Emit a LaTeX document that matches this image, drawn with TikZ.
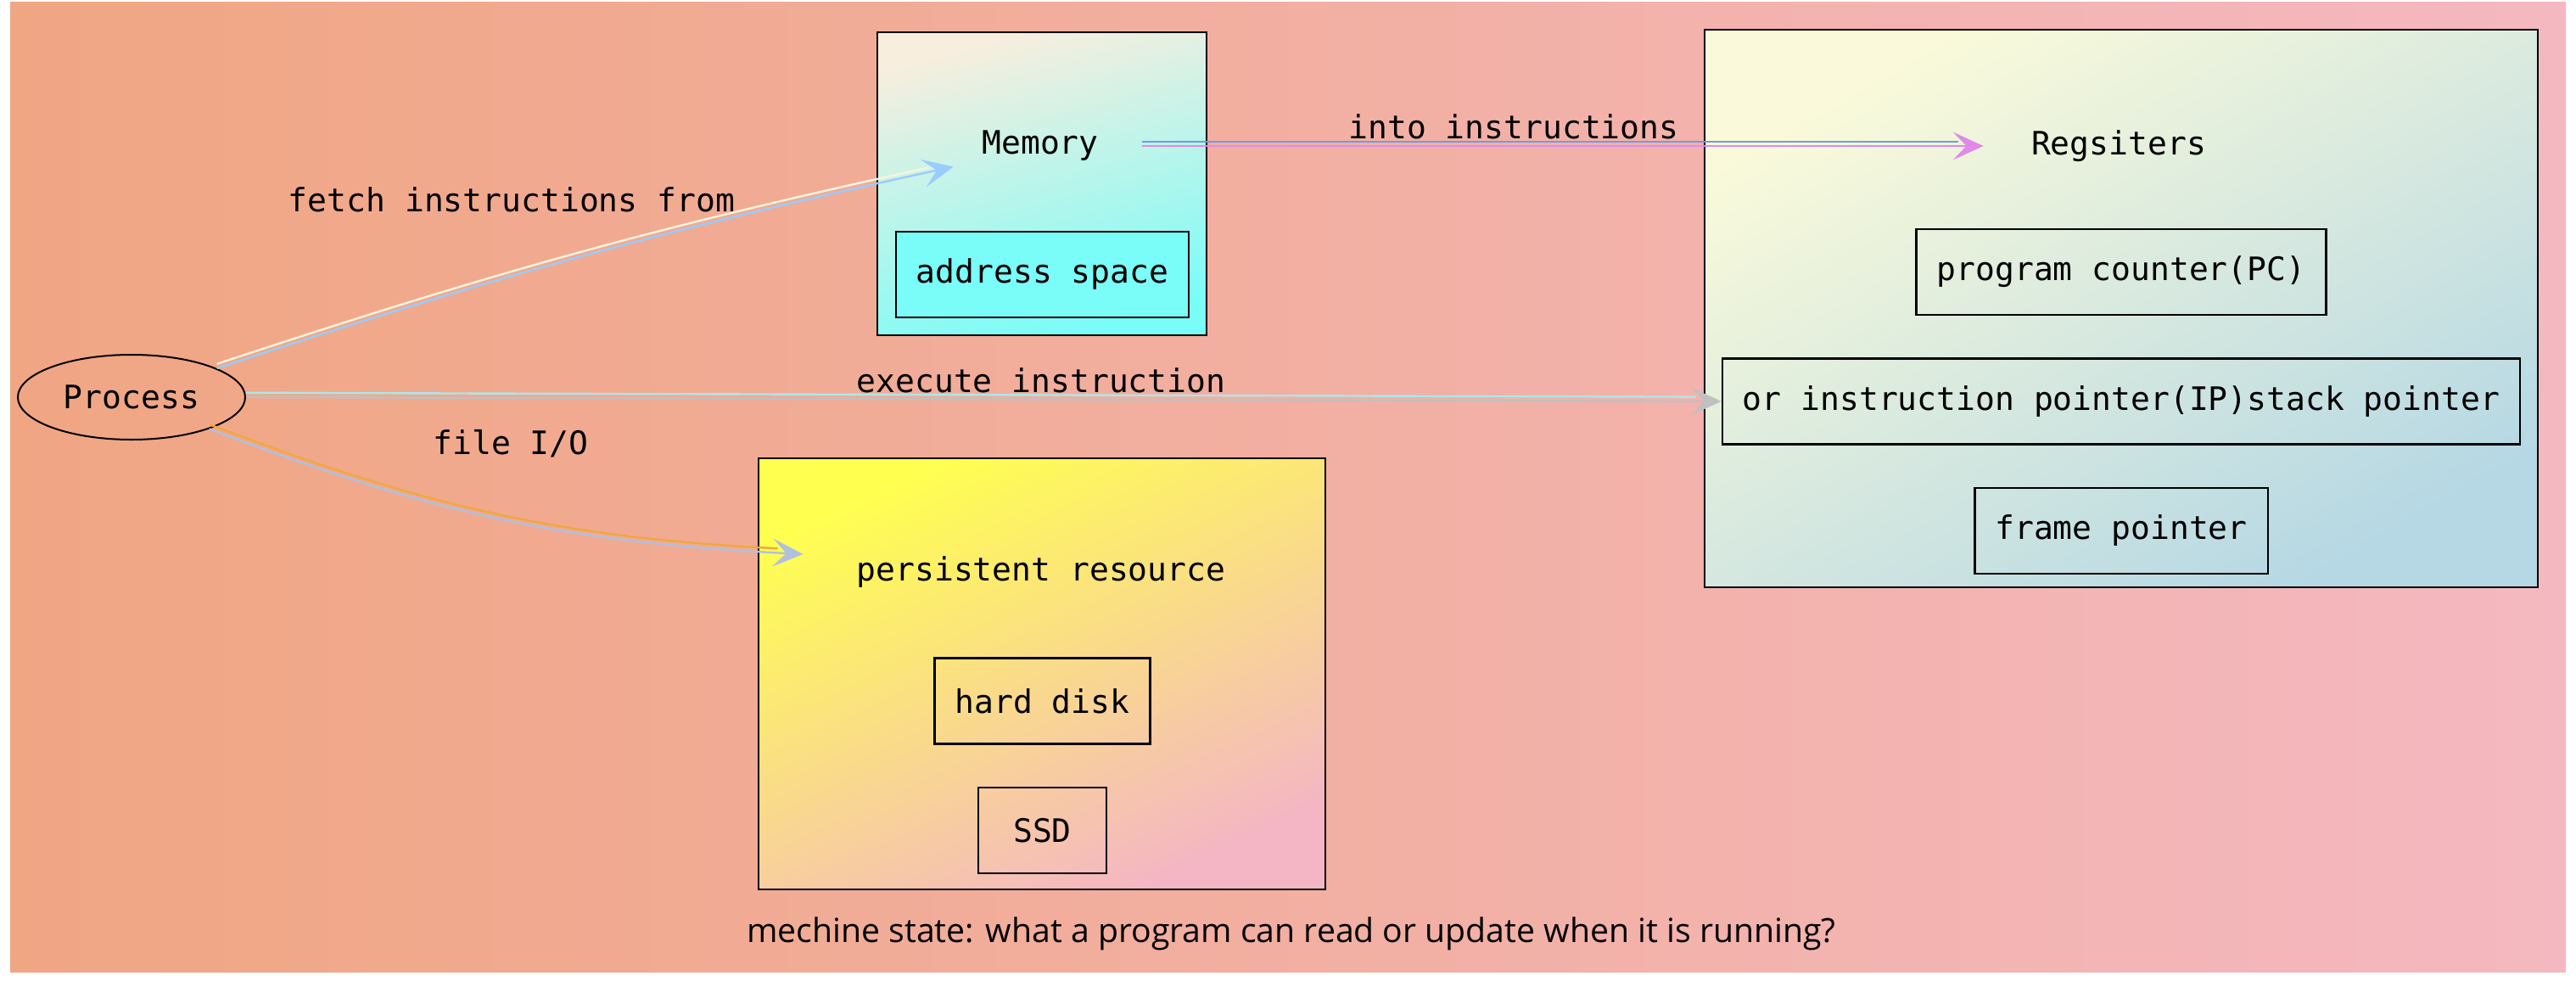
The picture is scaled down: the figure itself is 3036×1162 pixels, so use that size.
\documentclass[tikz,border=0pt]{standalone}
\usepackage{fontspec}
\usepackage{tikz}
\usetikzlibrary{positioning, arrows.meta, shapes.geometric}
\newfontfamily\diagmono{DejaVu Sans Mono}
\newfontfamily\diagsans{Open Sans}
\definecolor{bgleft}{HTML}{F0A683}
\definecolor{bgright}{HTML}{F4B8C0}
\definecolor{memtop}{HTML}{F8EEDE}
\definecolor{memcyan}{HTML}{7AFCF8}
\definecolor{regtop}{HTML}{FAFADA}
\definecolor{regbottom}{HTML}{B6D8E4}
\definecolor{perstop}{HTML}{FFFF50}
\definecolor{persbottom}{HTML}{F4B6C4}
\definecolor{fetchcream}{HTML}{FAF3D8}
\definecolor{fetchblue}{HTML}{99CCFF}
\definecolor{intoblue}{HTML}{6F9BE8}
\definecolor{intoviolet}{HTML}{E08AE8}
\definecolor{execcyan}{HTML}{AAE8EC}
\definecolor{execgrey}{HTML}{C0C0C0}
\definecolor{fileorange}{HTML}{F0A83C}
\definecolor{filegrey}{HTML}{B0C0E0}

\begin{document}
\begin{tikzpicture}[
            x=0.5pt, y=-0.5pt,
            node distance=24.5pt,
            font=\diagmono\fontsize{19pt}{23pt}\selectfont,
            container/.style={rectangle, draw, line width=1.3pt},
            entry/.style={rectangle, draw, line width=1.2pt, inner xsep=12pt, minimum height=50.5pt},
            caption/.style={inner sep=0pt, minimum height=24pt},
            arrow/.style={-{Stealth[length=18pt, width=16.5pt, inset=8pt]}, line width=1.2pt},
            twin/.style={line width=1.2pt, shorten >=15pt, transform canvas={yshift=2.6pt}}
        ]
        \useasboundingbox (0,0) rectangle (3036,1162);
        \shade[left color=bgleft, right color=bgright] (12,2) rectangle (3024,1145);

        % Memory
        \node[container, minimum width=194pt, minimum height=178.5pt, top color=memtop, bottom color=memcyan, shading angle=15] (memory) at (1228,216.5) {};
        \node[caption, minimum width=102pt] (memlabel) at (1226,172) {Memory};
        \node[entry, fill=memcyan] (addr) at (1228.5,323.5) {address space};

        % Registers
        \node[container, minimum width=491pt, minimum height=328.5pt, top color=regtop, bottom color=regbottom, shading angle=30] (registers) at (2500,363.5) {};
        \node[caption, minimum width=159pt] (reglabel) at (2497,172) {Regsiters};
        \node[entry] (pc) at (2500,320.5) {program counter(PC)};
        \node[entry, below=of pc] (ip) {or instruction pointer(IP)stack pointer};
        \node[entry, below=of ip] (fp) {frame pointer};

        % Persistent resource
        \node[container, minimum width=334pt, minimum height=254pt, top color=perstop, bottom color=persbottom, shading angle=25] (persistent) at (1228,794) {};
        \node[caption, minimum width=280pt] (perslabel) at (1227,674) {persistent resource};
        \node[entry] (hdd) at (1228.5,826) {hard disk};
        \node[entry, below=of hdd, minimum width=75.5pt] (ssd) {SSD};

        % Process and the labels
        \node[ellipse, draw, line width=1pt, minimum width=134pt, minimum height=50pt, inner sep=0pt] (process) at (155,468) {Process};
        \node (fetchlabel) at (603,235) {fetch instructions from};
        \node (intolabel) at (1784,149) {into instructions};
        \node (execlabel) at (1227,448) {execute instruction};
        \node (filelabel) at (602,523) {file I/O};
        \node[font=\diagsans\fontsize{19.6pt}{24pt}\selectfont] (state) at (1522,1100) {mechine state: what a program can read or update when it is running?};

        % Arrows, each drawn as two coloured lines
        \draw[twin, fetchcream] (process) to[bend left=3] (memlabel.south west);
        \draw[arrow, fetchblue] (process) to[bend left=3] (memlabel.south west);
        \draw[twin, intoblue] ([xshift=9pt]memlabel.east) -- (reglabel.west);
        \draw[arrow, intoviolet] ([xshift=9pt]memlabel.east) -- (reglabel.west);
        \draw[twin, execcyan] (process.east) -- (ip.west);
        \draw[arrow, execgrey] (process.east) -- (ip.west);
        \draw[twin, fileorange] (process) to[bend right=9] ([yshift=10.5pt]perslabel.west);
        \draw[arrow, filegrey] (process) to[bend right=9] ([yshift=10.5pt]perslabel.west);
    \end{tikzpicture}
\end{document}
